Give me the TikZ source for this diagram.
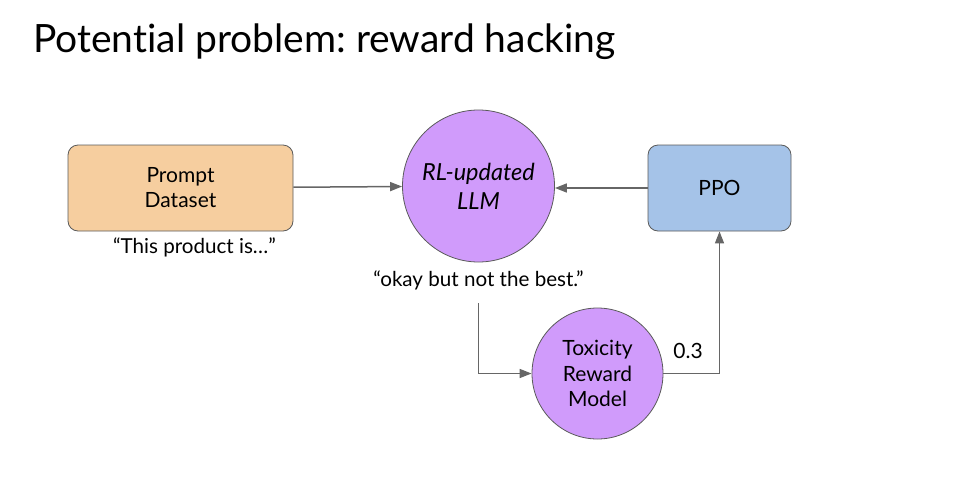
\documentclass[tikz,border=0pt]{standalone}
\usepackage{fontspec}
\setmainfont{Lato}[Ligatures={NoCommon}]
\usetikzlibrary{positioning,arrows.meta,calc}
\usepackage{xcolor}
\definecolor{promptfill}{HTML}{F6CE9F}
\definecolor{llmfill}{HTML}{D09BFB}
\definecolor{ppofill}{HTML}{A5C3E8}
\definecolor{edgegray}{HTML}{666666}
\definecolor{rimgray}{HTML}{5A5A5A}
\frenchspacing

\begin{document}
\begin{tikzpicture}[x=1pt, y=-1pt, >={Triangle[length=12pt,width=9pt]},
  every node/.style={font=\fontsize{21}{25}\selectfont}]
\tikzstyle{stage}=[rectangle, rounded corners=10pt, draw=rimgray, line width=0.8pt, minimum width=225pt, minimum height=86pt, align=center, fill=promptfill]
\tikzstyle{model}=[circle, draw=rimgray, line width=0.8pt, align=center, fill=llmfill, inner sep=0pt]
\tikzstyle{quote}=[inner sep=0pt, align=center, font=\fontsize{20.6}{25}\selectfont]
\tikzstyle{link}=[->, draw=edgegray, line width=1.5pt]

\useasboundingbox (0,0) rectangle (965,482);

% Title
\node[anchor=base west, inner sep=0pt, font=\fontsize{39}{47}\selectfont] (title) at (33,52) {Potential problem: reward hacking};

% Loop
\node[stage] (pd) at (180.5,188) {Prompt\\Dataset};
\node[model, minimum size=152pt, font=\fontsize{23.5}{29}\selectfont\itshape] (llm) at (478.5,186) {RL-updated\\LLM};
\node[stage, fill=ppofill, minimum width=143pt] (ppo) at (719.5,188) {PPO};
\node[model, minimum size=131pt, font=\fontsize{21}{25.5}\selectfont] (trm) at (597.5,373.5) {Toxicity\\Reward\\Model};

% Texts
\node[quote, below=6pt of pd, xshift=14pt] (inp) {“This product is…”};
\node[quote, below=8pt of llm] (outp) {“okay but not the best.”};

% Edges
\draw[link] (pd) -- (llm);
\draw[link] (ppo.west) -- (ppo.west -| llm.east);
\draw[link] ([yshift=-13pt]outp.south) |- (trm.west);
\draw[link] (trm.east) -| node[pos=0.22, above=11pt] {0.3} (ppo.south);
\end{tikzpicture}
\end{document}
